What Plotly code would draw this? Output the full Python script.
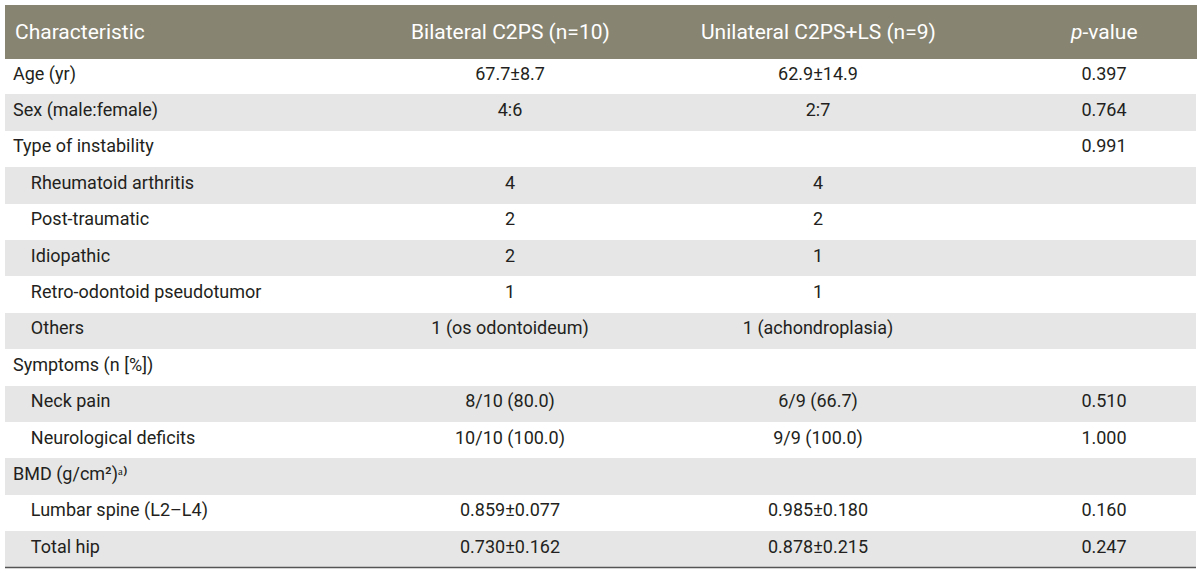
import plotly.graph_objects as go

header = ["Characteristic", "Bilateral C2PS (n=10)", "Unilateral C2PS+LS (n=9)", "<i>p</i>-value"]

characteristic = [
    "Age (yr)", "Sex (male:female)", "Type of instability",
    "Rheumatoid arthritis", "Post-traumatic", "Idiopathic",
    "Retro-odontoid pseudotumor", "Others", "Symptoms (n [%])",
    "Neck pain", "Neurological deficits", "BMD (g/cm²)ᵃ⁾",
    "Lumbar spine (L2–L4)", "Total hip",
]
indented = [False, False, False, True, True, True, True, True, False, True, True, False, True, True]
bilateral = ["67.7±8.7", "4:6", "", "4", "2", "2", "1", "1 (os odontoideum)", "",
             "8/10 (80.0)", "10/10 (100.0)", "", "0.859±0.077", "0.730±0.162"]
unilateral = ["62.9±14.9", "2:7", "", "4", "2", "1", "1", "1 (achondroplasia)", "",
              "6/9 (66.7)", "9/9 (100.0)", "", "0.985±0.180", "0.878±0.215"]
p_value = ["0.397", "0.764", "0.991", "", "", "", "", "", "", "0.510", "1.000", "", "0.160", "0.247"]

col_widths = [391, 228, 388, 184]
aligns = ["left", "center", "center", "center"]

W, H = 1200, 575
TABLE_LEFT, TABLE_TOP = 5, 5
HEADER_H, ROW_H = 53, 36.4
PAD = 8

first_col = [("\u00a0\u00a0\u00a0\u00a0" + c) if ind else c for c, ind in zip(characteristic, indented)]
n = len(characteristic)
row_fill = ["#ffffff" if i % 2 == 0 else "#e6e6e6" for i in range(n)]

FONT = "Roboto"
HEADER_FILL = "#878472"
table_w = sum(col_widths)
table_bottom = TABLE_TOP + HEADER_H + ROW_H * n

fig = go.Figure(go.Table(
    columnwidth=col_widths,
    header=dict(
        values=[""] * len(header),
        fill_color=HEADER_FILL,
        line=dict(color=HEADER_FILL, width=1),
        font=dict(family=FONT, size=21, color="white"),
        align=aligns,
        height=HEADER_H,
    ),
    cells=dict(
        values=[first_col, bilateral, unilateral, p_value],
        fill_color=[row_fill] * 4,
        line=dict(color="rgba(0,0,0,0)", width=0),
        font=dict(family=FONT, size=18, color="#231f20"),
        align=aligns,
        height=ROW_H,
    ),
    domain=dict(x=[TABLE_LEFT / W, (TABLE_LEFT + table_w) / W], y=[0, 1 - TABLE_TOP / H]),
))

# header labels, vertically centred in the header band
x_cursor = TABLE_LEFT
for label, w, al in zip(header, col_widths, aligns):
    if al == "left":
        xpos, xanchor = (x_cursor + PAD) / W, "left"
    else:
        xpos, xanchor = (x_cursor + w / 2) / W, "center"
    fig.add_annotation(text=label, x=xpos, y=1 - (TABLE_TOP + HEADER_H / 2) / H,
                       xref="paper", yref="paper", xanchor=xanchor, yanchor="middle",
                       showarrow=False, font=dict(family=FONT, size=21, color="white"))
    x_cursor += w

fig.add_shape(type="line", xref="paper", yref="paper", x0=TABLE_LEFT / W, x1=(TABLE_LEFT + table_w) / W,
              y0=1 - table_bottom / H, y1=1 - table_bottom / H, line=dict(color="#555555", width=1.5))
fig.update_layout(width=W, height=H, margin=dict(l=0, r=0, t=0, b=0),
                  paper_bgcolor="white", plot_bgcolor="white")
fig.write_html("out.html", config={"displayModeBar": False},
               post_script="document.body.style.margin='0';")
